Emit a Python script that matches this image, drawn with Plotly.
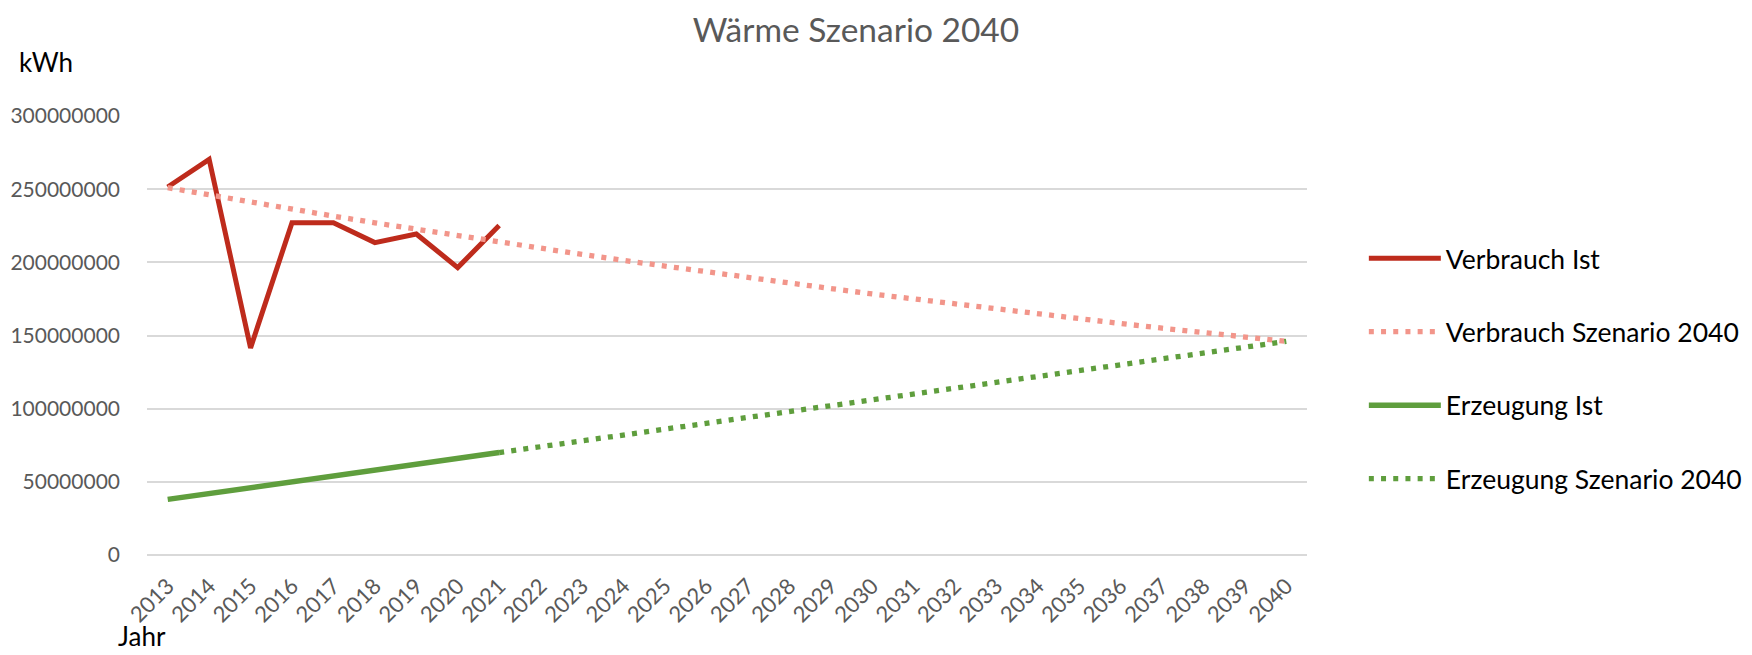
import plotly.graph_objects as go

jahre = [str(y) for y in range(2013, 2041)]

jahre_ist = jahre[:9]  # 2013-2021
verbrauch_ist = [251500000, 270400000, 141500000, 227100000, 227100000,
                 213500000, 219400000, 196400000, 225100000]

verbrauch_szenario = [251000000, 246000000, 241100000, 236300000, 231600000,
                      227000000, 222500000, 218100000, 213800000, 209500000,
                      205400000, 201300000, 197300000, 193400000, 189500000,
                      185700000, 182100000, 178400000, 174900000, 171400000,
                      168000000, 164700000, 161400000, 158200000, 155000000,
                      152000000, 148900000, 146000000]

erzeugung_ist = [38000000, 42000000, 46000000, 50000000, 54000000,
                 58000000, 62000000, 66000000, 70000000]

jahre_erz_szen = jahre[8:]  # 2021-2040
erzeugung_szenario = [70000000, 74000000, 78000000, 82000000, 86000000,
                      90000000, 94000000, 98000000, 102000000, 106000000,
                      110000000, 114000000, 118000000, 122000000, 126000000,
                      130000000, 134000000, 138000000, 142000000, 146000000]

y_ticks = [0, 50000000, 100000000, 150000000, 200000000, 250000000, 300000000]

FONT = "Lato"
RED = "#BE2B1C"
PINK = "#F2958A"
GREEN = "#5F9E3D"
DOT = "5px,7.2px"

# page body has an 8px default margin: the figure is sized/placed to compensate
W, H = 1744, 647
OFF = 8

fig = go.Figure()
fig.add_trace(go.Scatter(x=jahre_ist, y=verbrauch_ist, mode="lines",
                         name="Verbrauch Ist", legendgroup="a",
                         line=dict(color=RED, width=5)))
fig.add_trace(go.Scatter(x=jahre, y=verbrauch_szenario, mode="lines",
                         name="Verbrauch Szenario 2040", legendgroup="b",
                         line=dict(color=PINK, width=5.3, dash=DOT)))
fig.add_trace(go.Scatter(x=jahre_ist, y=erzeugung_ist, mode="lines",
                         name="Erzeugung Ist", legendgroup="c",
                         line=dict(color=GREEN, width=5.5)))
fig.add_trace(go.Scatter(x=jahre_erz_szen, y=erzeugung_szenario, mode="lines",
                         name="Erzeugung Szenario 2040", legendgroup="d",
                         line=dict(color=GREEN, width=5.3, dash=DOT)))

fig.update_layout(
    width=W, height=H,
    paper_bgcolor="white", plot_bgcolor="white",
    margin=dict(l=147 - OFF, r=W - (147 - OFF) - 1160, t=116 - OFF,
                b=H - (116 - OFF) - 439, autoexpand=False),
    font=dict(family=FONT, color="#595959"),
    title=dict(text="Wärme Szenario 2040", xref="container", x=(856 - OFF) / W,
               xanchor="center", yref="container", y=1 - (30 - OFF) / H,
               yanchor="middle", font=dict(size=33.5, color="#595959", family=FONT)),
    xaxis=dict(type="category", categoryorder="array", categoryarray=jahre,
               range=[-0.5, 27.5], showgrid=False, zeroline=False, showline=False,
               tickangle=-45, tickfont=dict(size=22, color="#595959", family=FONT),
               ticks="", ticklabelstandoff=13, automargin=False),
    yaxis=dict(range=[0, 300000000], tickvals=y_ticks,
               ticktext=[str(v) for v in y_ticks],
               showgrid=True, gridcolor="#D9D9D9", gridwidth=1.5,
               zeroline=True, zerolinecolor="#D9D9D9", zerolinewidth=1.5,
               showline=False, ticks="", ticklabelstandoff=26, automargin=False,
               tickfont=dict(size=21, color="#595959", family=FONT)),
    legend=dict(x=1.049, xanchor="left", y=0.730, yanchor="top",
                font=dict(size=26.5, color="#000000", family=FONT),
                itemwidth=72,
                tracegroupgap=36, bgcolor="rgba(0,0,0,0)"),
    showlegend=True,
    annotations=[
        dict(text="kWh", xref="paper", yref="paper", x=(17 - 147) / 1160,
             xanchor="left", y=(555 - 62) / 439, yanchor="middle",
             showarrow=False, font=dict(size=26, color="#000000", family=FONT)),
        dict(text="Jahr", xref="paper", yref="paper", x=(116 - 147) / 1160,
             xanchor="left", y=(555 - 636) / 439, yanchor="middle",
             showarrow=False, font=dict(size=26, color="#000000", family=FONT)),
    ],
)

fig.write_html("out.html")
